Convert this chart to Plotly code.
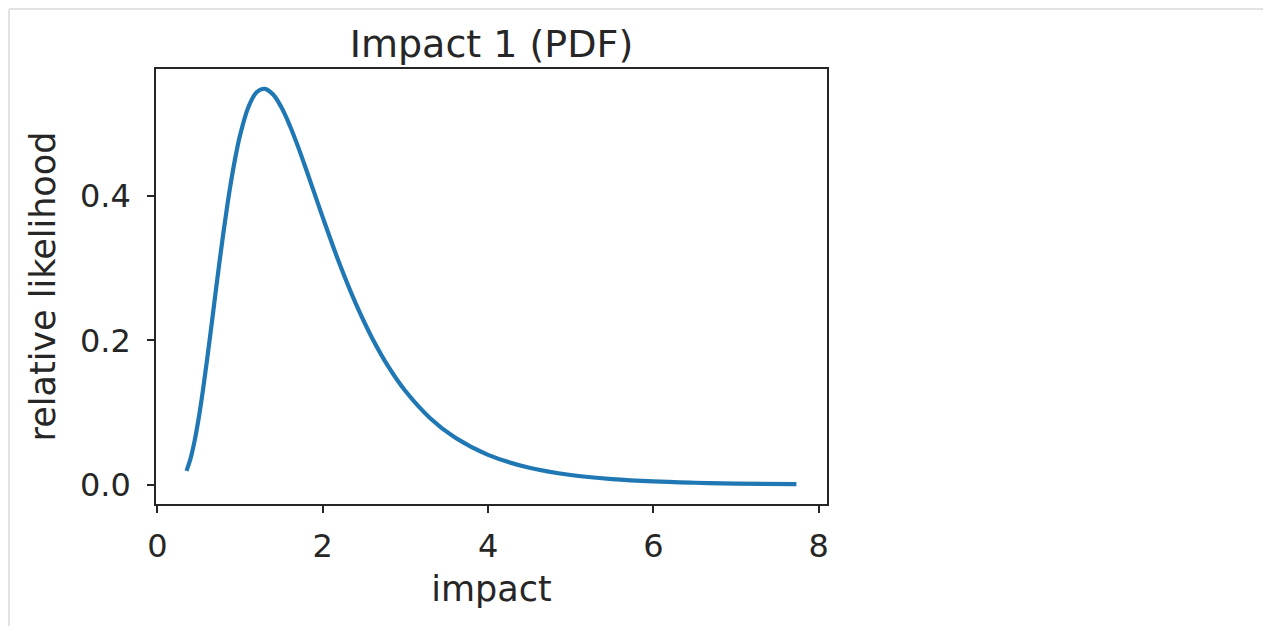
import plotly.graph_objects as go

# Values
impact = [0.352, 0.40, 0.45, 0.50, 0.55, 0.60, 0.65, 0.70, 0.75, 0.80, 0.85, 0.90, 0.95,
          1.00, 1.10, 1.20, 1.30, 1.40, 1.50, 1.60, 1.70, 1.80, 1.90, 2.00, 2.20, 2.40,
          2.60, 2.80, 3.00, 3.30, 3.60, 4.00, 4.50, 5.00, 5.50, 6.00, 6.50, 7.00, 7.73]
likelihood = [0.0193, 0.0361, 0.0608, 0.0926, 0.1303, 0.1724, 0.2170, 0.2627, 0.3076, 0.3505,
              0.3902, 0.4260, 0.4573, 0.4839, 0.5227, 0.5434, 0.5482, 0.5402, 0.5225, 0.4978,
              0.4685, 0.4365, 0.4034, 0.3703, 0.3070, 0.2508, 0.2027, 0.1626, 0.1299, 0.0923,
              0.0654, 0.0415, 0.0236, 0.0136, 0.0080, 0.0047, 0.0029, 0.0017, 0.0009]
x_ticks = [0, 2, 4, 6, 8]
y_ticks = [0.0, 0.2, 0.4]

# page has an 8px body margin, so figure coords = page coords - 8
W, H = 1263, 618
L, T = 148, 61
pw, ph = 671, 435
R, B = W - L - pw, H - T - ph

def px(x):
    return (x - L) / pw

def py(y):
    return (H - B - y) / ph

txt = "#262626"
font = "DejaVu Sans"

fig = go.Figure(go.Scatter(x=impact, y=likelihood, mode="lines",
                           line=dict(color="#1f77b4", width=4.2, shape="spline"),
                           showlegend=False))

axis_common = dict(showgrid=False, zeroline=False, showline=True, mirror=True,
                   linecolor=txt, linewidth=1.5, ticks="outside", ticklen=7,
                   tickwidth=1.5, tickcolor=txt,
                   tickfont=dict(family=font, size=32, color=txt))

fig.update_xaxes(range=[-0.017, 8.10], tickvals=x_ticks, ticklabelstandoff=6,
                 title=dict(text="impact", font=dict(family=font, size=35, color=txt), standoff=12),
                 **axis_common)
fig.update_yaxes(range=[-0.0265, 0.5756], tickvals=y_ticks, tickformat=".1f",
                 ticklabelstandoff=10,
                 title=dict(text="relative likelihood", font=dict(family=font, size=35, color=txt), standoff=14),
                 **axis_common)

fig.update_layout(
    width=W, height=H,
    margin=dict(l=L, r=R, t=T, b=B),
    paper_bgcolor="white", plot_bgcolor="white",
    title=dict(text="Impact 1 (PDF)", x=0.5, xref="paper", xanchor="center",
               y=(H - 36) / H, yanchor="middle", yref="container",
               font=dict(family=font, size=38, color=txt)),
    shapes=[
        dict(type="line", xref="paper", yref="paper", x0=px(1), x1=px(W), y0=py(1), y1=py(1),
             line=dict(color="#e3e3e3", width=2)),
        dict(type="line", xref="paper", yref="paper", x0=px(1), x1=px(1), y0=py(1), y1=py(H),
             line=dict(color="#e3e3e3", width=2)),
    ],
)

fig.write_html("out.html")
